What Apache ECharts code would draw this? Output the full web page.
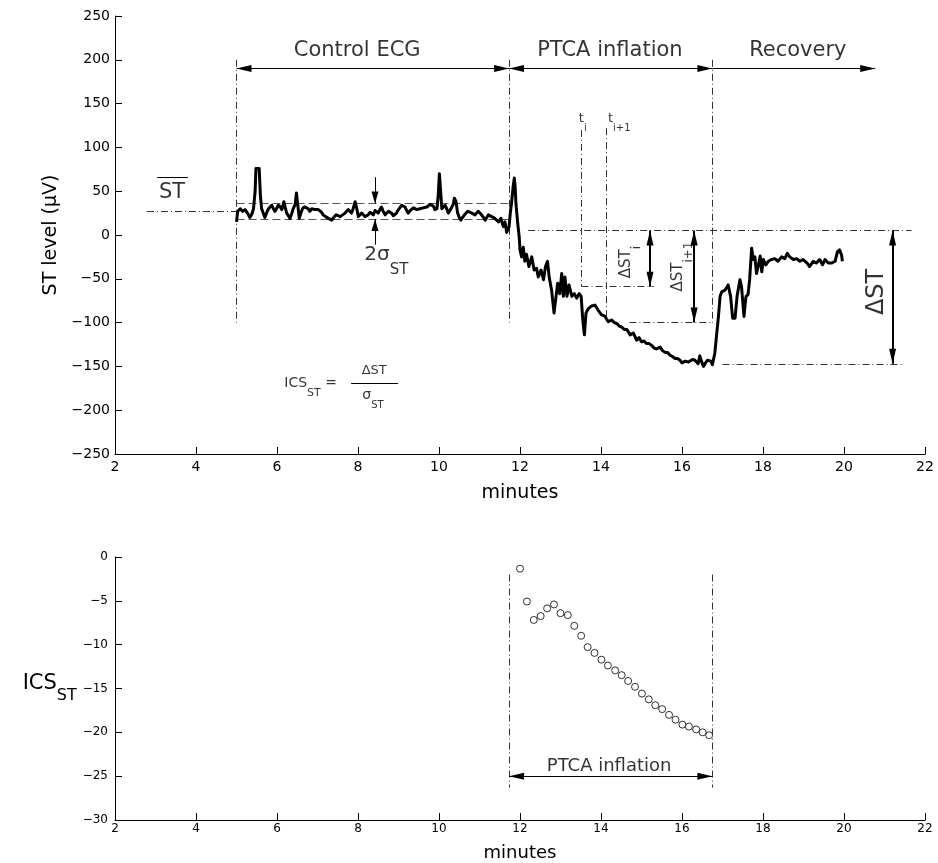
<!DOCTYPE html>
<html>
<head>
<meta charset="utf-8">
<script src="https://cdn.jsdelivr.net/npm/echarts@6/dist/echarts.min.js"></script>
<style>
  html, body { margin: 0; padding: 0; background: #fff; }
  #chart { width: 938px; height: 863px; }
</style>
</head>
<body>
<div id="chart"></div>
<script>
// ST level trace (minutes, microvolts)
const stTime = [
  5.00, 5.03, 5.09, 5.15, 5.21, 5.27, 5.33, 5.38, 5.42, 5.46, 5.48, 5.52, 5.56, 5.59, 5.62, 5.66,
  5.70, 5.75, 5.79, 5.83, 5.87, 5.91, 5.95, 6.00, 6.03, 6.08, 6.12, 6.17, 6.21, 6.24, 6.28, 6.32,
  6.36, 6.40, 6.45, 6.48, 6.51, 6.55, 6.59, 6.63, 6.68, 6.72, 6.77, 6.81, 6.86, 6.90, 6.94, 6.98,
  7.02, 7.06, 7.10, 7.14, 7.20, 7.27, 7.31, 7.35, 7.40, 7.46, 7.51, 7.56, 7.62, 7.68, 7.72, 7.76,
  7.80, 7.84, 7.88, 7.93, 7.97, 8.01, 8.05, 8.09, 8.13, 8.17, 8.21, 8.25, 8.30, 8.34, 8.38, 8.42,
  8.46, 8.50, 8.54, 8.58, 8.62, 8.67, 8.71, 8.75, 8.79, 8.83, 8.87, 8.91, 8.95, 9.00, 9.04, 9.08,
  9.12, 9.16, 9.20, 9.24, 9.29, 9.33, 9.37, 9.41, 9.45, 9.49, 9.53, 9.57, 9.61, 9.65, 9.70, 9.74,
  9.78, 9.82, 9.86, 9.90, 9.95, 9.98, 10.01, 10.04, 10.07, 10.11, 10.15, 10.19, 10.23, 10.27, 10.31, 10.35,
  10.38, 10.42, 10.46, 10.50, 10.54, 10.58, 10.63, 10.67, 10.71, 10.76, 10.81, 10.85, 10.89, 10.93, 10.97, 11.01,
  11.05, 11.10, 11.14, 11.18, 11.22, 11.26, 11.30, 11.34, 11.38, 11.42, 11.47, 11.53, 11.56, 11.59, 11.63, 11.67,
  11.69, 11.73, 11.76, 11.79, 11.83, 11.86, 11.88, 11.90, 11.94, 11.98, 12.00, 12.04, 12.08, 12.12, 12.16, 12.22,
  12.29, 12.35, 12.41, 12.45, 12.52, 12.58, 12.63, 12.68, 12.72, 12.78, 12.84, 12.88, 12.93, 12.98, 13.03, 13.07,
  13.11, 13.16, 13.21, 13.28, 13.34, 13.40, 13.46, 13.51, 13.55, 13.59, 13.63, 13.69, 13.77, 13.85, 13.93, 14.01,
  14.10, 14.18, 14.26, 14.33, 14.39, 14.45, 14.51, 14.58, 14.64, 14.72, 14.80, 14.88, 14.94, 15.00, 15.06, 15.13,
  15.19, 15.25, 15.31, 15.37, 15.46, 15.52, 15.58, 15.64, 15.70, 15.77, 15.83, 15.89, 15.95, 16.00, 16.03, 16.08,
  16.12, 16.16, 16.20, 16.26, 16.32, 16.36, 16.40, 16.44, 16.48, 16.53, 16.58, 16.63, 16.67, 16.71, 16.75, 16.78,
  16.81, 16.85, 16.90, 16.94, 16.98, 17.06, 17.10, 17.14, 17.20, 17.25, 17.31, 17.36, 17.43, 17.47, 17.53, 17.58,
  17.63, 17.67, 17.72, 17.76, 17.80, 17.84, 17.88, 17.93, 17.97, 18.01, 18.07, 18.13, 18.21, 18.29, 18.37, 18.46,
  18.54, 18.60, 18.66, 18.75, 18.83, 18.91, 18.99, 19.09, 19.15, 19.24, 19.32, 19.40, 19.47, 19.53, 19.61, 19.70,
  19.78, 19.84, 19.89, 19.94, 19.96
];
const stLevel = [
  15, 27, 30, 27, 29, 25, 20, 24, 30, 50, 76, 74, 76, 45, 30, 25,
  20, 26, 30, 28, 34, 30, 27, 31, 34, 32, 29, 38, 30, 25, 22, 19,
  24, 30, 35, 48, 46, 19, 25, 30, 32, 34, 30, 27, 30, 32, 29, 27,
  29, 30, 26, 23, 21, 19, 18, 17, 20, 23, 22, 21, 23, 25, 27, 29,
  27, 25, 30, 38, 30, 21, 23, 25, 23, 21, 22, 23, 26, 27, 23, 28,
  26, 25, 29, 32, 27, 23, 25, 27, 26, 25, 22, 21, 25, 29, 31, 34,
  33, 32, 28, 25, 28, 30, 31, 32, 29, 27, 30, 32, 31, 30, 32, 34,
  35, 36, 33, 29, 30, 45, 70, 50, 30, 32, 34, 30, 25, 28, 30, 35,
  42, 38, 25, 20, 17, 20, 23, 25, 27, 26, 25, 24, 23, 25, 27, 25,
  23, 20, 17, 20, 23, 22, 21, 20, 19, 17, 15, 19, 14, 9.5, 15, 3,
  2, 9.5, 25, 36, 55, 65, 55, 36, 15, -2, -17, -25, -14, -30, -22, -36,
  -25, -40, -38, -48, -40, -51, -36, -30, -48, -63, -89, -74, -55, -67, -44, -70,
  -48, -70, -57, -70, -67, -72, -67, -70, -97, -114, -89, -84, -81, -80, -86, -91,
  -93, -99, -97, -100, -101, -104, -105, -108, -108, -114, -112, -120, -117, -122, -121, -124,
  -124, -126, -129, -130, -128, -132, -134, -134, -137, -139, -141, -141, -143, -146, -147, -144,
  -143, -145, -144, -142, -143, -145, -147, -138, -144, -150, -146, -143, -145, -144, -148, -150,
  -135, -116, -93, -70, -65, -63, -62, -57, -70, -95, -95, -70, -51, -59, -93, -70,
  -68, -51, -15, -28, -25, -44, -36, -24, -42, -28, -34, -30, -28, -27, -30, -25,
  -27, -21, -25, -28, -27, -30, -28, -32, -36, -30, -32, -28, -34, -28, -32, -32,
  -30, -19, -17, -23, -30
];

// ICS_ST samples during the inflation
const icsTime = [
  12.00, 12.17, 12.34, 12.51, 12.67, 12.84, 13.00, 13.18, 13.34, 13.51, 13.67, 13.84, 14.01, 14.17, 14.35,
  14.51, 14.67, 14.84, 15.01, 15.18, 15.34, 15.51, 15.68, 15.84, 16.01, 16.17, 16.35, 16.51, 16.67
];
const icsValue = [
  -1.33, -5.08, -7.18, -6.74, -5.86, -5.41, -6.41, -6.63, -7.85, -8.99, -10.28, -10.94, -11.71, -12.38, -12.93,
  -13.48, -14.14, -14.81, -15.58, -16.24, -16.91, -17.35, -18.01, -18.56, -19.12, -19.34, -19.67, -20.00, -20.33
];

// Phase boundaries (minutes) and reference levels (microvolts)
const controlStart = 5.0;
const inflationStart = 11.73;
const inflationEnd = 16.75;
const recoveryArrowEnd = 20.77;
const phaseNames = ['Control ECG', 'PTCA inflation', 'Recovery'];
const stMean = 27.3;
const stBand = [36, 18.3];
const stBaseline = 5;
const tI = 13.52;
const tI1 = 14.12;
const deltaSTi = -59;
const deltaSTi1 = -100;
const deltaSTmax = -147;

// Axis ranges and tick labels
const xTicks = [2, 4, 6, 8, 10, 12, 14, 16, 18, 20, 22];
const stTicks = [-250, -200, -150, -100, -50, 0, 50, 100, 150, 200, 250];
const icsTicks = [-30, -25, -20, -15, -10, -5, 0];

const FONT = 'DejaVu Sans';
const MINUS = '\u2212';
const fmt = v => String(v).replace('-', MINUS);

const dashDot = [7, 3, 1, 3];
const dashed = [8, 4];
const thin = (type, color) => ({ color: color || '#333', width: 1, type: type });
const bold = { color: '#000', width: 2, type: 'solid' };
const arrowHead = { symbol: 'triangle', symbolSize: [7, 15], symbolOffset: [0, 7.5] };
const smallHead = { symbol: 'triangle', symbolSize: [7, 12], symbolOffset: [0, 6] };
const noHead = { symbol: 'none' };

// a segment between two data points, with optional arrowheads at either end
function seg(p1, p2, style, head1, head2) {
  return [
    Object.assign({ coord: p1 }, head1 || noHead),
    Object.assign({ coord: p2, lineStyle: style }, head2 || noHead)
  ];
}

function axisCommon(min, max, ticks, fontSize, margin) {
  return {
    type: 'value', min: min, max: max, interval: ticks[1] - ticks[0],
    axisLine: { show: true, onZero: false, lineStyle: { color: '#000', width: 1 } },
    axisTick: { show: true, inside: true, length: 7, lineStyle: { color: '#000' } },
    splitLine: { show: false },
    axisLabel: { color: '#000', fontFamily: FONT, fontSize: fontSize, margin: margin, formatter: fmt, showMinLabel: true, showMaxLabel: true }
  };
}

const sub = (main, s, mSize, sSize) => ({
  formatter: '{m|' + main + '}{s|' + s + '}',
  rich: {
    m: { fontFamily: FONT, fontSize: mSize, color: '#000', lineHeight: mSize * 1.6, verticalAlign: 'top' },
    s: { fontFamily: FONT, fontSize: sSize, color: '#000', lineHeight: mSize * 1.6, verticalAlign: 'bottom' }
  }
});

function textItem(x, y, label, rotate) {
  return {
    value: [x, y],
    label: Object.assign({
      show: true, position: 'inside', color: '#000', fontFamily: FONT,
      textBorderWidth: 0, rotate: rotate || 0
    }, label)
  };
}

const topAnnotations = [
  // phase arrows
  seg([controlStart, 190], [inflationStart, 190], thin('solid', '#000'), arrowHead, arrowHead),
  seg([inflationStart, 190], [inflationEnd, 190], thin('solid', '#000'), arrowHead, arrowHead),
  seg([inflationEnd, 190], [recoveryArrowEnd, 190], thin('solid', '#000'), noHead, arrowHead),
  // phase boundaries
  seg([controlStart, 200], [controlStart, -100], thin(dashDot)),
  seg([inflationStart, 200], [inflationStart, -100], thin(dashDot)),
  seg([inflationEnd, 200], [inflationEnd, -100], thin(dashDot)),
  // mean and +/- sigma band of the control segment
  seg([2.79, stMean], [controlStart, stMean], thin(dashDot)),
  seg([controlStart, stBand[0]], [inflationStart, stBand[0]], thin(dashed, '#555')),
  seg([controlStart, stBand[1]], [inflationStart, stBand[1]], thin(dashed, '#555')),
  seg([8.42, 66], [8.42, stBand[0]], thin('solid', '#000'), noHead, smallHead),
  seg([8.42, -11], [8.42, stBand[1]], thin('solid', '#000'), noHead, smallHead),
  // overline of the mean label
  seg([3.04, 65.8], [3.80, 65.8], thin('solid', '#000')),
  // sampling instants
  seg([tI, 120], [tI, deltaSTi], thin(dashDot)),
  seg([tI1, 122], [tI1, deltaSTi1], thin(dashDot)),
  // reference and deviation levels
  seg([12.2, stBaseline], [21.67, stBaseline], thin(dashDot)),
  seg([tI, deltaSTi], [15.3, deltaSTi], thin(dashDot)),
  seg([14.7, deltaSTi1], [inflationEnd, deltaSTi1], thin(dashDot)),
  seg([17.0, deltaSTmax], [21.42, deltaSTmax], thin(dashDot)),
  // deviation arrows
  seg([15.21, stBaseline], [15.21, deltaSTi], bold, arrowHead, arrowHead),
  seg([16.3, stBaseline], [16.3, deltaSTi1], bold, arrowHead, arrowHead),
  seg([21.2, stBaseline], [21.2, deltaSTmax], bold, arrowHead, arrowHead),
  // fraction bar of the formula
  seg([7.83, -169.6], [8.99, -169.6], thin('solid', '#000'))
];

const topTexts = [
  textItem(7.98, 211, { formatter: phaseNames[0], fontSize: 21 }),
  textItem(14.22, 211, { formatter: phaseNames[1], fontSize: 21 }),
  textItem(18.86, 211, { formatter: phaseNames[2], fontSize: 21 }),
  textItem(3.41, 49, { formatter: 'ST', fontSize: 21 }),
  textItem(8.70, -30, sub('2\u03c3', 'ST', 20, 15)),
  textItem(13.55, 128, sub('t', 'i', 13, 10)),
  textItem(14.45, 128, sub('t', 'i+1', 13, 10)),
  textItem(14.74, -31, sub('\u0394ST', 'i', 15, 12), 90),
  textItem(16.02, -36, sub('\u0394ST', 'i+1', 15, 12), 90),
  textItem(20.81, -65, { formatter: '\u0394ST', fontSize: 24 }, 90),
  textItem(6.83, -174, Object.assign(sub('ICS', 'ST', 14, 11), { formatter: '{m|ICS}{s|ST}{m| =}' })),
  textItem(8.40, -155, { formatter: '\u0394ST', fontSize: 13 }),
  textItem(8.37, -188, sub('\u03c3', 'ST', 14, 10))
];

const bottomAnnotations = [
  seg([inflationStart, -2], [inflationStart, -26.3], thin(dashDot)),
  seg([inflationEnd, -2], [inflationEnd, -26.3], thin(dashDot)),
  seg([inflationStart, -25], [inflationEnd, -25], thin('solid', '#000'), arrowHead, arrowHead)
];

const chart = echarts.init(document.getElementById('chart'), null, { renderer: 'canvas' });

chart.setOption({
  animation: false,
  backgroundColor: '#fff',
  grid: [
    { left: 115, top: 16, width: 810, height: 438 },
    { left: 115, top: 557, width: 810, height: 272 }
  ],
  xAxis: [
    Object.assign(axisCommon(xTicks[0], xTicks[xTicks.length - 1], xTicks, 14, 6), {
      gridIndex: 0, name: 'minutes', nameLocation: 'middle', nameGap: 30,
      nameTextStyle: { fontFamily: FONT, fontSize: 19, color: '#000' }
    }),
    Object.assign(axisCommon(xTicks[0], xTicks[xTicks.length - 1], xTicks, 12, 3), {
      gridIndex: 1, name: 'minutes', nameLocation: 'middle', nameGap: 24,
      nameTextStyle: { fontFamily: FONT, fontSize: 18, color: '#000' }
    })
  ],
  yAxis: [
    Object.assign(axisCommon(stTicks[0], stTicks[stTicks.length - 1], stTicks, 14, 5), {
      gridIndex: 0, name: 'ST level (\u03bcV)', nameLocation: 'middle', nameGap: 54,
      nameTextStyle: { fontFamily: FONT, fontSize: 19, color: '#000' }
    }),
    Object.assign(axisCommon(icsTicks[0], icsTicks[icsTicks.length - 1], icsTicks, 12, 7), {
      gridIndex: 1, name: '{m|ICS}{s|ST}', nameLocation: 'middle', nameGap: 35, nameRotate: 0,
      nameTextStyle: {
        align: 'right',
        rich: {
          m: { fontFamily: FONT, fontSize: 21, color: '#000', lineHeight: 30, verticalAlign: 'top' },
          s: { fontFamily: FONT, fontSize: 16, color: '#000', lineHeight: 30, verticalAlign: 'bottom' }
        }
      }
    })
  ],
  series: [
    {
      name: 'ST level',
      type: 'line',
      xAxisIndex: 0, yAxisIndex: 0,
      data: stTime.map((t, i) => [t, stLevel[i]]),
      showSymbol: false, symbol: 'none',
      lineStyle: { color: '#000', width: 3, join: 'round' },
      silent: true,
      z: 5
    },
    {
      name: 'annotations',
      type: 'line',
      xAxisIndex: 0, yAxisIndex: 0,
      data: [],
      silent: true,
      markLine: {
        silent: true, animation: false,
        label: { show: false },
        emphasis: { disabled: true },
        symbol: 'none',
        lineStyle: { color: '#000' },
        data: topAnnotations
      }
    },
    {
      name: 'labels',
      type: 'scatter',
      xAxisIndex: 0, yAxisIndex: 0,
      symbolSize: 0,
      itemStyle: { color: 'transparent' },
      silent: true,
      data: topTexts,
      z: 6
    },
    {
      name: 'ICS',
      type: 'scatter',
      xAxisIndex: 1, yAxisIndex: 1,
      data: icsTime.map((t, i) => [t, icsValue[i]]),
      symbol: 'circle', symbolSize: 7,
      itemStyle: { color: '#fff', borderColor: '#000', borderWidth: 1 },
      silent: true,
      markLine: {
        silent: true, animation: false,
        label: { show: false },
        emphasis: { disabled: true },
        symbol: 'none',
        lineStyle: { color: '#000' },
        data: bottomAnnotations
      }
    },
    {
      name: 'inflation label',
      type: 'scatter',
      xAxisIndex: 1, yAxisIndex: 1,
      symbolSize: 0,
      itemStyle: { color: 'transparent' },
      silent: true,
      data: [textItem(14.2, -23.9, { formatter: phaseNames[1], fontSize: 18 })]
    }
  ]
});
</script>
</body>
</html>
